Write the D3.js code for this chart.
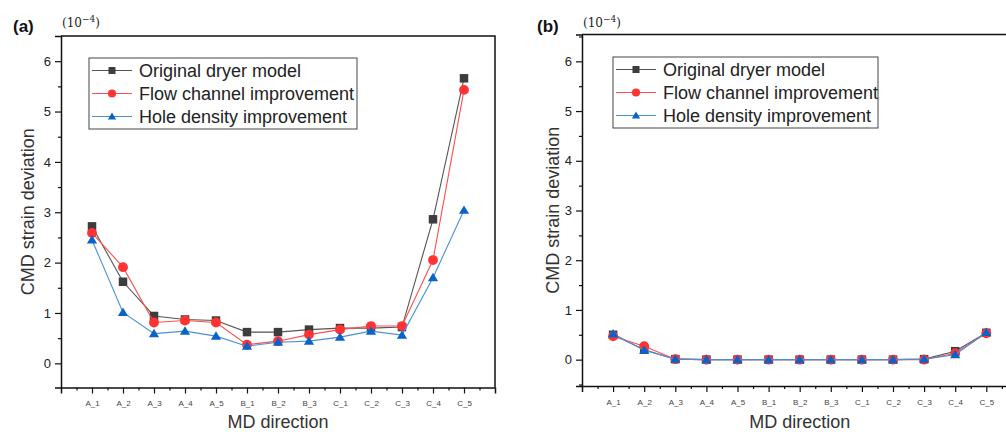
<!DOCTYPE html>
<html>
<head>
<meta charset="utf-8">
<script src="https://d3js.org/d3.v7.min.js"></script>
<style>
  body { margin: 0; background: #fff; }
  svg { font-family: Arial, "Liberation Sans", sans-serif; }
  .tick-y { font-size: 13px; fill: #222; }
  .tick-x { font-size: 8px; fill: #444; }
  .axis-title { font-size: 18px; fill: #333; }
  .legend-text { font-size: 18px; fill: #222; }
  .panel-tag { font-size: 17px; font-weight: bold; fill: #111; }
  .unit { font-family: "DejaVu Serif", "Liberation Serif", serif; font-size: 12px; fill: #222; }
</style>
</head>
<body>
<svg width="1006" height="432" id="chart"></svg>
<script>
  // data (units of 1e-4)
  var categories = ["A_1", "A_2", "A_3", "A_4", "A_5", "B_1", "B_2", "B_3", "C_1", "C_2", "C_3", "C_4", "C_5"]
  var seriesNames = ["Original dryer model", "Flow channel improvement", "Hole density improvement"]
  var yTicks = [0, 1, 2, 3, 4, 5, 6]

  // panel (a)
  var aOriginal = [2.72, 1.62, 0.94, 0.87, 0.85, 0.62, 0.62, 0.67, 0.70, 0.70, 0.72, 2.86, 5.66]
  var aFlow     = [2.59, 1.91, 0.81, 0.85, 0.81, 0.37, 0.44, 0.57, 0.67, 0.74, 0.74, 2.05, 5.43]
  var aHole     = [2.45, 1.01, 0.59, 0.64, 0.54, 0.34, 0.42, 0.44, 0.52, 0.64, 0.56, 1.70, 3.04]

  // panel (b)
  var bOriginal = [0.50, 0.20, 0.01, 0, 0, 0, 0, 0, 0, 0, 0.01, 0.17, 0.54]
  var bFlow     = [0.47, 0.27, 0.01, 0, 0, 0, 0, 0, 0, 0, 0, 0.13, 0.53]
  var bHole     = [0.52, 0.19, 0.01, 0, 0, 0, 0, 0, 0, 0, 0.01, 0.10, 0.55]

  var styles = [
    { line: "#555555", fill: "#3d3d3d", shape: "square" },
    { line: "#ff4d4d", fill: "#ff3333", shape: "circle" },
    { line: "#4a90d9", fill: "#0a64c8", shape: "triangle" }
  ]

  var svg = d3.select('#chart')

  // draws one marker centred on 0,0 inside g
  function marker(g, shape, size, fill) {
    if (shape === "square") {
      g.append('rect')
        .attr('x', -size/2).attr('y', -size/2)
        .attr('width', size).attr('height', size)
        .attr('fill', fill)
    } else if (shape === "circle") {
      g.append('circle').attr('r', size*0.58).attr('fill', fill)
    } else {
      var h = size*0.95, w = size*1.2
      g.append('path')
        .attr('d', "M0," + (-h*0.6) + "L" + (w/2) + "," + (h*0.45) + "L" + (-w/2) + "," + (h*0.45) + "Z")
        .attr('fill', fill)
    }
  }

  function drawPanel(p, series) {
    var g = svg.append('g')

    var x = d3.scaleLinear().domain([-1, 13]).range([p.left, p.left + 14*p.step])
    var y = d3.scaleLinear().domain(p.yDomain).range([p.bottom, p.top])

    // frame: top + right borders (left/bottom come from the axes)
    g.append('path')
      .attr('d', "M" + x(13) + "," + p.bottom + "V" + p.top + "H" + p.left)
      .attr('fill', 'none').attr('stroke', '#111').attr('stroke-width', 1.5)

    // y axis with outward ticks, minor at halves
    var yAxis = d3.axisLeft(y).tickValues(yTicks).tickSize(6).tickPadding(4).tickFormat(d3.format('d'))
    var ya = g.append('g').attr('transform', 'translate(' + p.left + ',0)').call(yAxis)
    ya.select('.domain').attr('stroke', '#111').attr('stroke-width', 1.5)
    ya.selectAll('.tick line').attr('stroke', '#111').attr('stroke-width', 1.2)
    ya.selectAll('.tick text').attr('class', 'tick-y').attr('font-size', null).attr('font-family', null)
    var yMinor = d3.axisLeft(y).tickValues(yTicks.map(function(d) { return d - 0.5 }).concat([6.5]).filter(function(d) { return d > p.yDomain[0] && d < p.yDomain[1] }))
      .tickSize(3).tickFormat('')
    var ym = g.append('g').attr('transform', 'translate(' + p.left + ',0)').call(yMinor)
    ym.select('.domain').remove()
    ym.selectAll('.tick line').attr('stroke', '#111').attr('stroke-width', 1.2)

    // x axis, categories at integer positions
    var idx = d3.range(categories.length)
    var xAxis = d3.axisBottom(x).tickValues(idx).tickSize(6).tickPadding(7)
      .tickFormat(function(i) { return categories[i] })
    var xa = g.append('g').attr('transform', 'translate(0,' + p.bottom + ')').call(xAxis)
    xa.select('.domain').attr('stroke', '#111').attr('stroke-width', 1.5)
    xa.selectAll('.tick line').attr('stroke', '#111').attr('stroke-width', 1.2)
    xa.selectAll('.tick text').attr('class', 'tick-x').attr('font-size', null).attr('font-family', null)
    var xMinor = d3.axisBottom(x).tickValues(d3.range(-0.5, 13, 1)).tickSize(3).tickFormat('')
    var xm = g.append('g').attr('transform', 'translate(0,' + p.bottom + ')').call(xMinor)
    xm.select('.domain').remove()
    xm.selectAll('.tick line').attr('stroke', '#111').attr('stroke-width', 1.2)

    // titles
    g.append('text').attr('class', 'axis-title')
      .attr('x', (p.left + x(13))/2).attr('y', 428)
      .attr('text-anchor', 'middle').text("MD direction")
    g.append('text').attr('class', 'axis-title')
      .attr('transform', 'translate(' + p.yTitleX + ',' + ((p.top + p.bottom)/2) + ')rotate(-90)')
      .attr('text-anchor', 'middle').text("CMD strain deviation")
    g.append('text').attr('class', 'panel-tag').attr('x', p.tagX).attr('y', 32).text(p.tag)
    var u = g.append('text').attr('class', 'unit').attr('x', p.left + 1).attr('y', 27)
    u.append('tspan').text("(10")
    u.append('tspan').attr('dy', -5).attr('font-size', '9px').text("\u22124")
    u.append('tspan').attr('dy', 5).text(")")

    // series lines and markers
    var line = d3.line().x(function(d, i) { return x(i) }).y(function(d) { return y(d) })
    series.forEach(function(vals, k) {
      var st = styles[k]
      g.append('path').attr('d', line(vals))
        .attr('fill', 'none').attr('stroke', st.line).attr('stroke-width', 1.1)
      vals.forEach(function(v, i) {
        var m = g.append('g').attr('transform', 'translate(' + x(i) + ',' + y(v) + ')')
        marker(m, st.shape, 8.5, st.fill)
      })
    })

    // legend
    var lg = g.append('g').attr('transform', 'translate(' + p.legX + ',' + p.legY + ')')
    lg.append('rect').attr('width', p.legW).attr('height', 71)
      .attr('fill', '#fff').attr('stroke', '#444').attr('stroke-width', 1)
    seriesNames.forEach(function(name, k) {
      var st = styles[k]
      var ry = 12.5 + k*23
      lg.append('line').attr('x1', 3).attr('x2', 43).attr('y1', ry).attr('y2', ry)
        .attr('stroke', st.line).attr('stroke-width', 1.1)
      var m = lg.append('g').attr('transform', 'translate(23,' + ry + ')')
      marker(m, st.shape, 7, st.fill)
      lg.append('text').attr('class', 'legend-text').attr('x', 50).attr('y', ry + 6.5).text(name)
    })
  }

  drawPanel({ tag: "(a)", tagX: 13, left: 61, step: 31, top: 36, bottom: 387.5,
              yDomain: [-0.48, 6.5], yTitleX: 34, legX: 89, legY: 58, legW: 268 },
            [aOriginal, aFlow, aHole])
  drawPanel({ tag: "(b)", tagX: 537, left: 582, step: 31.1, top: 34.5, bottom: 386,
              yDomain: [-0.53, 6.54], yTitleX: 559, legX: 613, legY: 57, legW: 265 },
            [bOriginal, bFlow, bHole])
</script>
</body>
</html>
